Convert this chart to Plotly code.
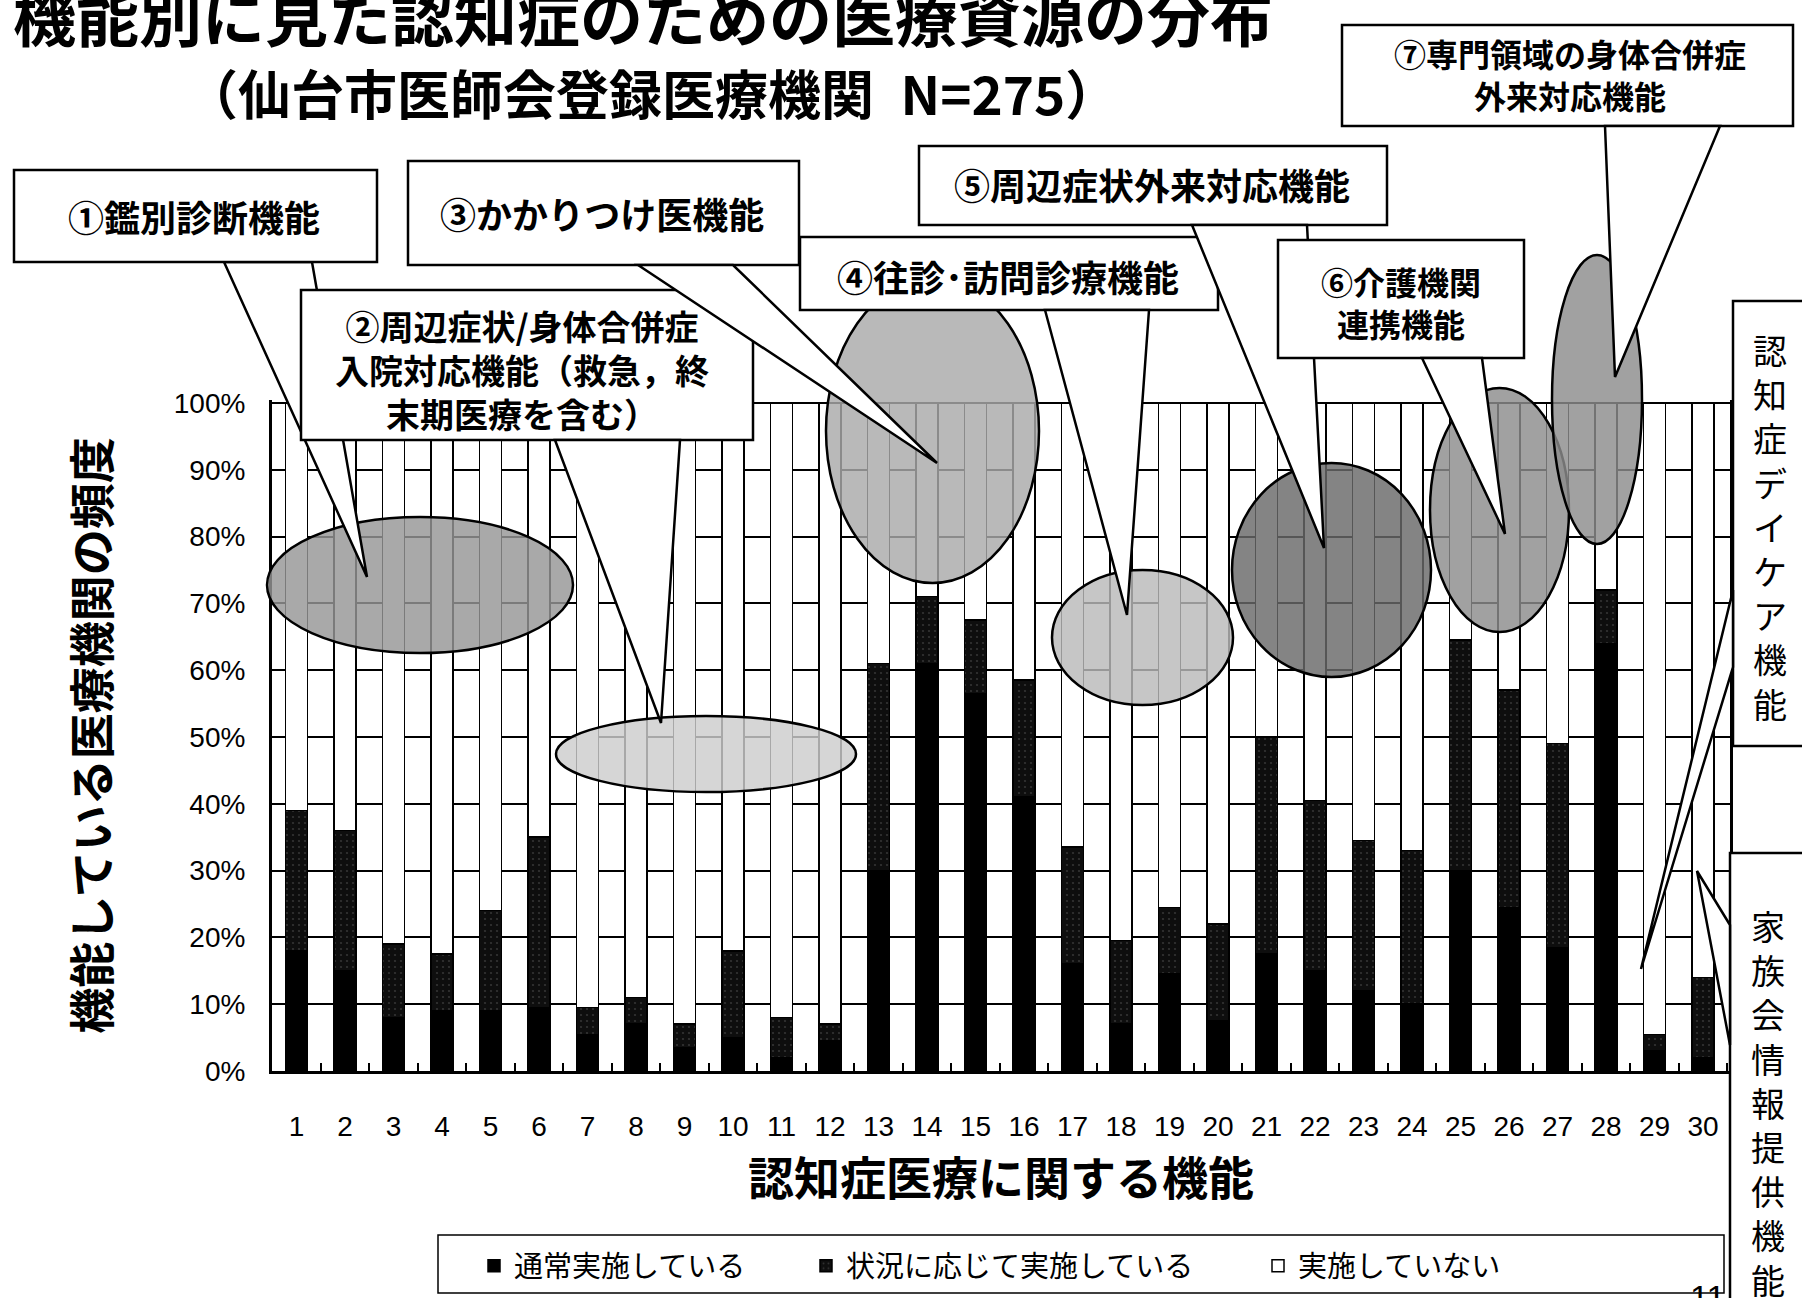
import plotly.graph_objects as go

# ---------------- data ----------------
categories = ["1", "2", "3", "4", "5", "6", "7", "8", "9", "10",
              "11", "12", "13", "14", "15", "16", "17", "18", "19", "20",
              "21", "22", "23", "24", "25", "26", "27", "28", "29", "30"]
tsujo = [18, 15, 8, 9, 9, 9.5, 5.5, 7, 3.5, 5,
         2, 4.5, 30, 61, 56.5, 41, 16, 7, 14.5, 7.5,
         17.5, 15, 12, 10, 30, 24.5, 18.5, 64, 3, 2]
jokyo = [21, 21, 11, 8.5, 15, 25.5, 4, 4, 3.5, 13,
         6, 2.5, 31, 10, 11, 17.5, 17.5, 12.5, 10, 14.5,
         32.5, 25.5, 22.5, 23, 34.5, 32.5, 30.5, 8, 2.5, 12]
nashi = [61, 64, 81, 82.5, 76, 65, 90.5, 89, 93, 82,
         92, 93, 39, 29, 32.5, 41.5, 66.5, 80.5, 75.5, 78,
         50, 59.5, 65.5, 67, 35.5, 43, 51, 28, 94.5, 86]
series_names = ["通常実施している", "状況に応じて実施している", "実施していない"]
y_tickvals = [0, 10, 20, 30, 40, 50, 60, 70, 80, 90, 100]
y_ticktext = ["0%", "10%", "20%", "30%", "40%", "50%", "60%", "70%", "80%", "90%", "100%"]

# ---------------- geometry helpers (pixel -> paper) ----------------
W, H = 1802, 1298
PL, PR, PT, PB = 272, 1730, 400, 1071


def px(x):
    return (x - PL) / (PR - PL)


def py(y):
    return (PB - y) / (PB - PT)


JP = "Noto Sans CJK JP"
NARROW = "Liberation Sans Narrow, Arial Narrow, Liberation Sans, sans-serif"

fig = go.Figure()
fig.add_trace(go.Bar(
    x=categories, y=tsujo, name=series_names[0], legendwidth=287,
    marker=dict(color="black", line=dict(color="black", width=1.5))))
fig.add_trace(go.Bar(
    x=categories, y=jokyo, name=series_names[1], legendwidth=407,
    marker=dict(color="#0e0e0e", line=dict(color="black", width=1.5),
                pattern=dict(shape=".", fillmode="overlay", fgcolor="#5a5a5a",
                             size=6, solidity=0.1))))
fig.add_trace(go.Bar(
    x=categories, y=nashi, name=series_names[2], legendwidth=380,
    marker=dict(color="white", line=dict(color="black", width=1.5))))

shapes = []


def ellipse(x0, y0, x1, y1, gray):
    shapes.append(dict(type="circle", xref="paper", yref="paper", layer="above",
                       x0=px(x0), x1=px(x1), y0=py(y1), y1=py(y0),
                       fillcolor=f"rgba({gray},{gray},{gray},0.82)",
                       line=dict(color="black", width=2.5)))


def box(x0, y0, x1, y1):
    shapes.append(dict(type="rect", xref="paper", yref="paper", layer="above",
                       x0=px(x0), x1=px(x1), y0=py(y1), y1=py(y0),
                       fillcolor="white", line=dict(color="black", width=2.5)))


def pointer(pts):
    d = "M" + " L".join(f"{px(a):.5f},{py(b):.5f}" for a, b in pts) + " Z"
    shapes.append(dict(type="path", xref="paper", yref="paper", layer="above",
                       path=d, fillcolor="white", line=dict(color="black", width=2.5)))


# highlight ellipses
ellipse(267, 517, 573, 653, 150)     # (1)
ellipse(556, 716, 856, 792, 205)     # (2)
ellipse(826, 279, 1039, 583, 170)    # (3)
ellipse(1052, 570, 1233, 705, 185)   # (4)
ellipse(1232, 463, 1431, 677, 105)   # (5)
ellipse(1430, 388, 1569, 632, 140)   # (6)
ellipse(1552, 255, 1642, 544, 140)   # (7)

# callout boxes and pointers (layered like the original)
pointer([(224, 262), (367, 577), (312, 262)])
box(14, 170, 377, 262)
box(408, 161, 799, 265)
box(919, 146, 1387, 225)
box(1342, 25, 1793, 126)
box(301, 290, 753, 440)
pointer([(638, 265), (937, 463), (733, 265)])
pointer([(555, 440), (661, 723), (680, 440)])
box(800, 237, 1218, 310)
pointer([(1192, 225), (1324, 548), (1307, 225)])
box(1278, 240, 1524, 358)
pointer([(1045, 310), (1127, 615), (1149, 310)])
pointer([(1422, 358), (1505, 534), (1482, 358)])
pointer([(1605, 126), (1615, 377), (1720, 126)])
box(1733, 301, 1830, 746)
pointer([(1733, 590), (1641, 969), (1733, 667)])
box(1730, 853, 1830, 1330)
pointer([(1730, 925), (1697, 871), (1730, 1045)])
# legend frame
shapes.append(dict(type="rect", xref="paper", yref="paper", layer="above",
                   x0=px(438), x1=px(1724), y0=py(1293), y1=py(1235),
                   fillcolor="rgba(0,0,0,0)", line=dict(color="black", width=1.5)))

annotations = []


def text(x, y, s, size=36, bold=True, xanchor="center", yanchor="middle"):
    annotations.append(dict(xref="paper", yref="paper", x=px(x), y=py(y),
                            text=(f"<b>{s}</b>" if bold else s), showarrow=False,
                            xanchor=xanchor, yanchor=yanchor,
                            font=dict(family=JP, size=size, color="black")))


text(643, 14, "機能別に見た認知症のための医療資源の分布", size=63)
text(651, 92, "（仙台市医師会登録医療機関\u2002N=275）", size=53)
text(194, 216, "①鑑別診断機能")
text(602, 213, "③かかりつけ医機能")
text(1152, 184, "⑤周辺症状外来対応機能")
text(522, 369, "②周辺症状/身体合併症<br>入院対応機能（救急，終<br>末期医療を含む）", size=34)
text(1008, 276, "④往診･訪問診療機能")
text(1401, 302, "⑥介護機関<br>連携機能", size=32)
text(1570, 74, "⑦専門領域の身体合併症<br>外来対応機能", size=32)
text(1770, 526, "<br>".join("認知症デイケア機能"), size=34, bold=False)
text(1768, 1102, "<br>".join("家族会情報提供機能"), size=34, bold=False)
annotations.append(dict(xref="paper", yref="paper", x=px(1707), y=py(1276),
                        text="11", showarrow=False, xanchor="center", yanchor="top",
                        font=dict(family=NARROW, size=34, color="black")))

fig.update_layout(
    width=W, height=H,
    margin=dict(l=PL, r=W - PR, t=PT, b=H - PB, autoexpand=False),
    plot_bgcolor="white", paper_bgcolor="white",
    barmode="stack", bargap=0.55,
    font=dict(family=JP, color="black"),
    showlegend=True,
    legend=dict(orientation="h", x=px(474), xanchor="left", y=py(1266), yanchor="middle",
                font=dict(family=JP, size=29), bgcolor="rgba(0,0,0,0)", borderwidth=0,
                traceorder="normal"),
    xaxis=dict(type="category", range=[-0.505, 29.557], showline=True, linecolor="black",
               linewidth=3, ticks="inside", tickson="boundaries", ticklen=8, tickwidth=2,
               tickcolor="black", showgrid=False, ticklabelstandoff=28,
               tickfont=dict(family=NARROW, size=28, color="black"),
               title=dict(text="<b>認知症医療に関する機能</b>", font=dict(family=JP, size=46),
                          standoff=14)),
    yaxis=dict(range=[0, 100.45], tickvals=y_tickvals, ticktext=y_ticktext,
               showgrid=True, gridcolor="black", gridwidth=2, zeroline=False,
               showline=True, linecolor="black", linewidth=3, mirror=True, ticks="",
               ticklabelstandoff=18,
               tickfont=dict(family=NARROW, size=28, color="black"),
               title=dict(text="<b>機能している医療機関の頻度</b>", font=dict(family=JP, size=46),
                          standoff=50)),
    shapes=shapes,
    annotations=annotations,
)

fig.write_html("out.html")
